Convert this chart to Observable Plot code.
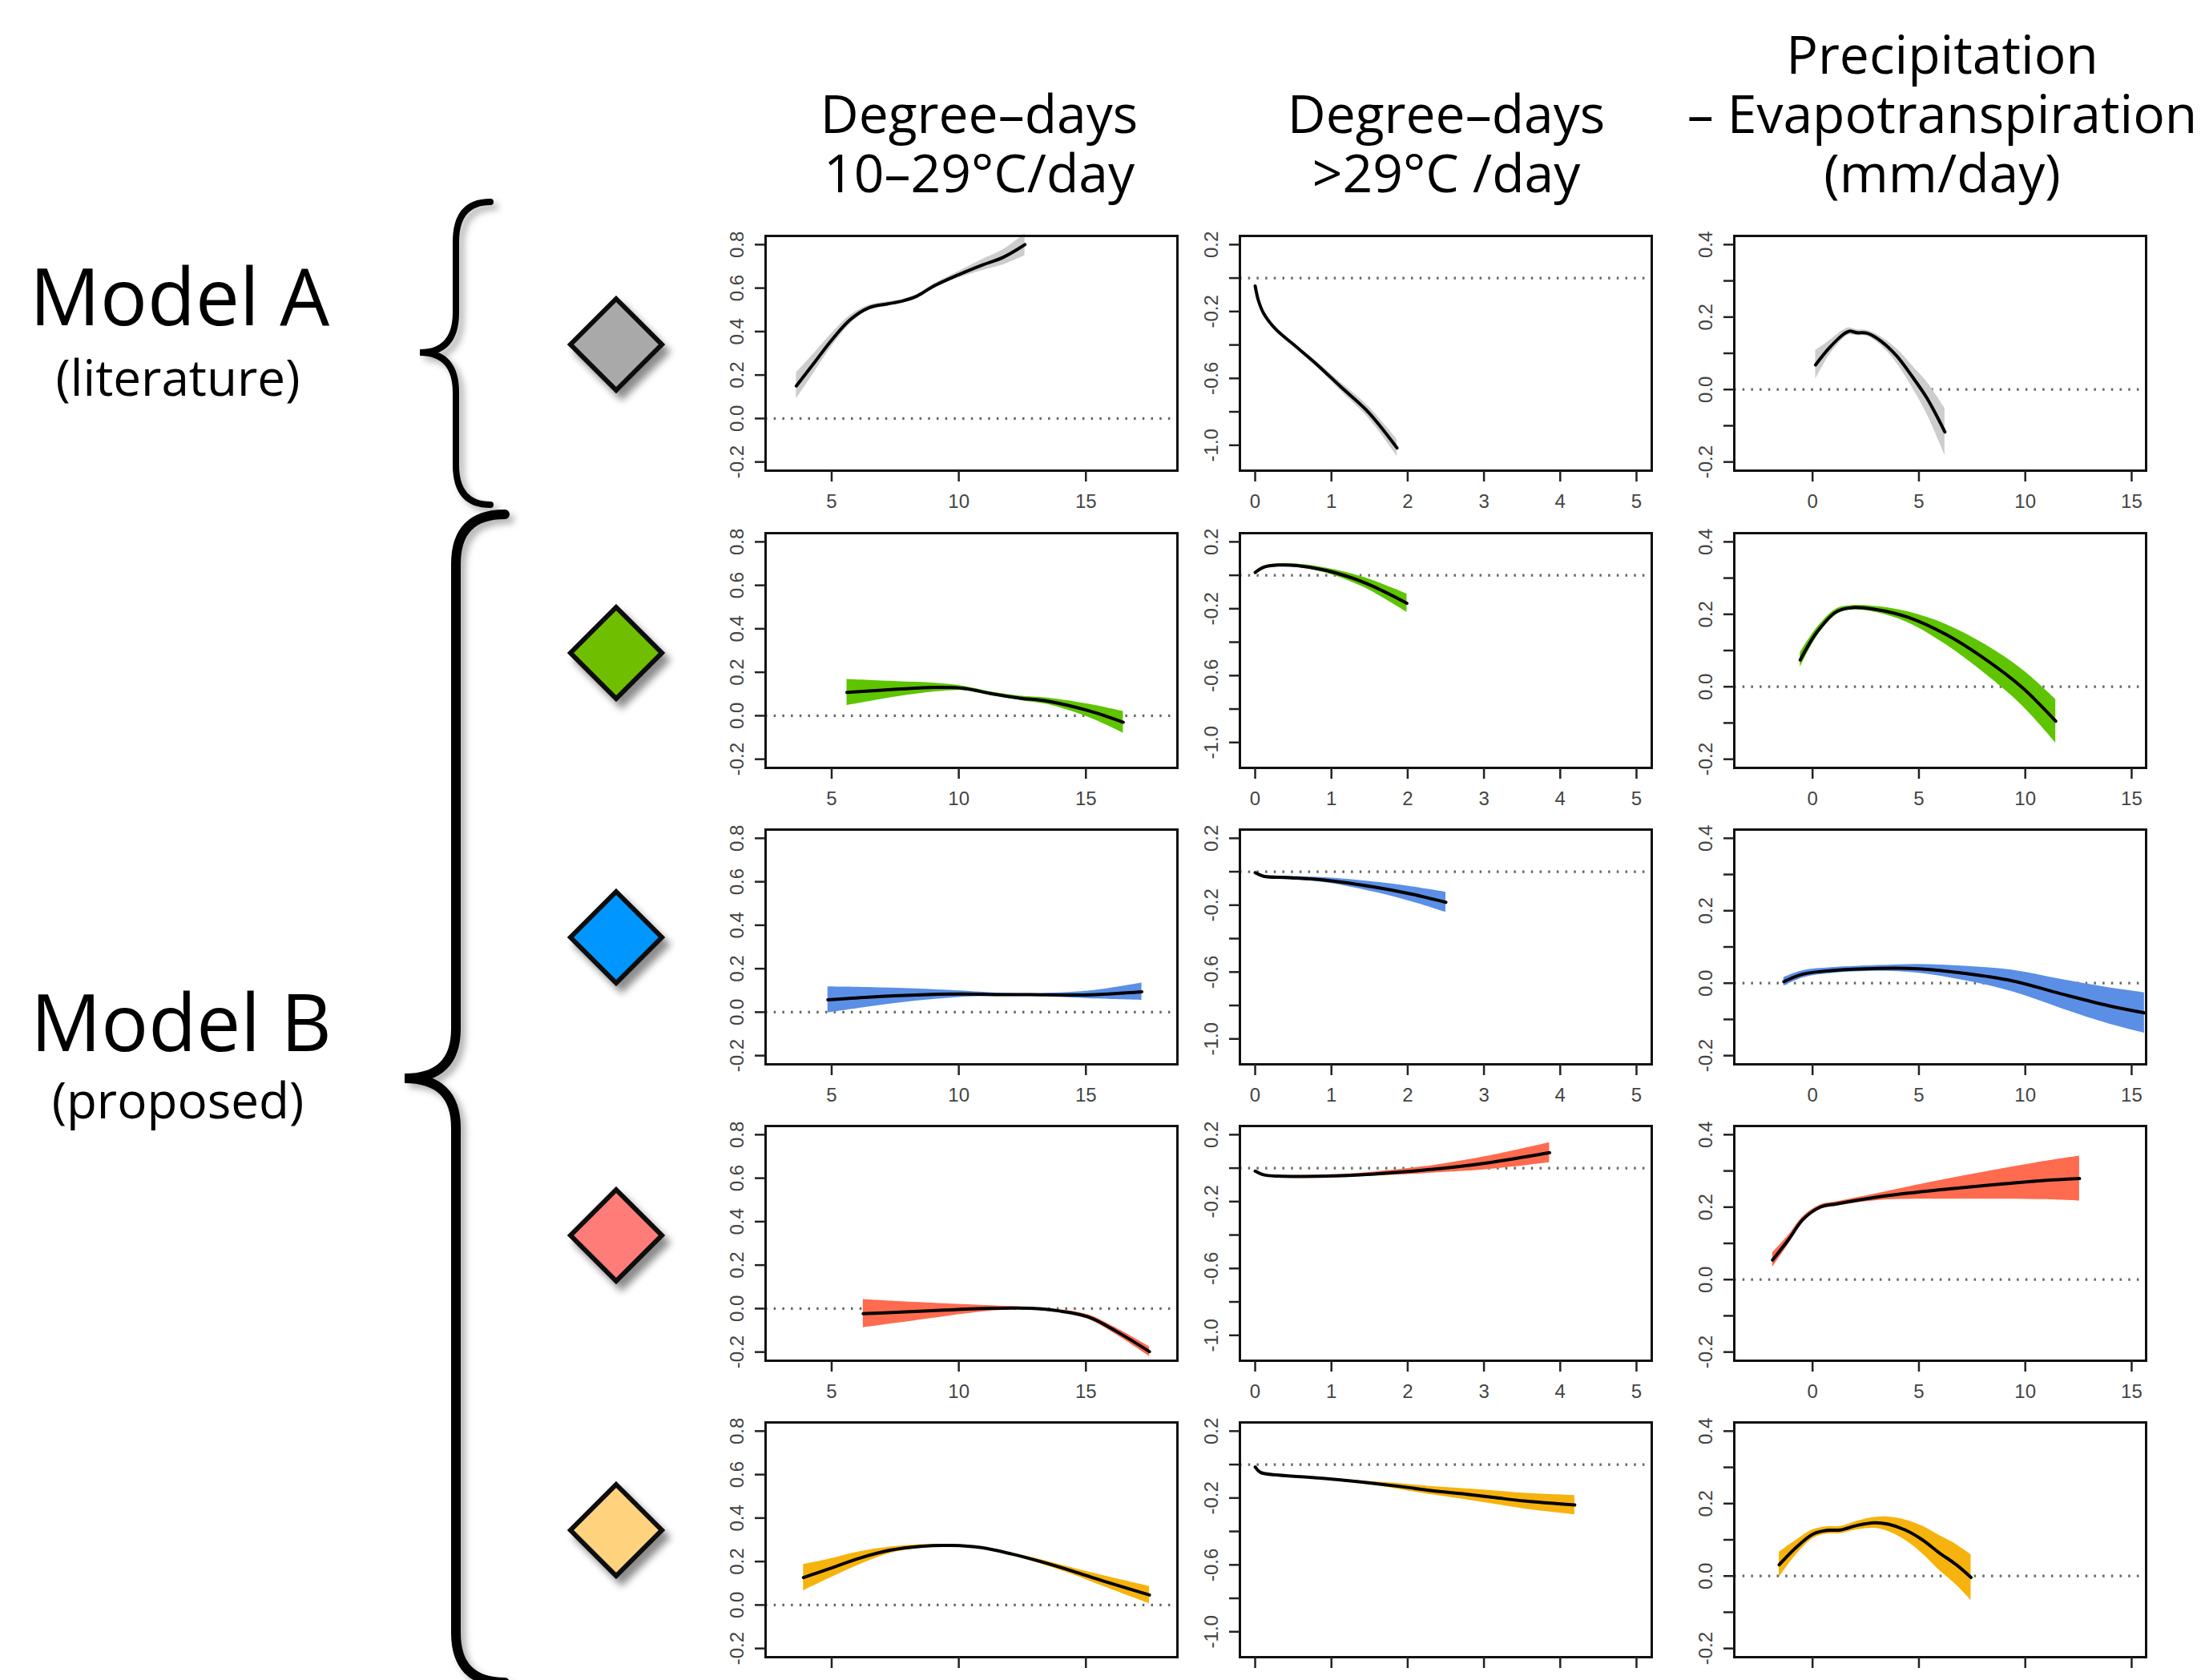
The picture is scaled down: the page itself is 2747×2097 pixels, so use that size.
<!DOCTYPE html>
<html><head><meta charset="utf-8">
<script src="https://cdn.jsdelivr.net/npm/d3@7"></script>
<script src="https://cdn.jsdelivr.net/npm/@observablehq/plot@0.6"></script>
<style>
html,body{margin:0;padding:0;background:#fff;overflow:hidden}
#page{position:relative;width:2747px;height:2097px;overflow:hidden;background:#fff}
.hdr{position:absolute;font-family:"Open Sans",sans-serif;font-size:66px;line-height:74px;height:74px;text-align:center;white-space:nowrap;color:#000;transform:translateX(-50%)}
.panel{position:absolute}
#deco{position:absolute;left:0;top:0}
</style></head><body><div id="page"></div>
<script>
// ---------- column headers ----------
const headers = [
  ["Degree–days", "10–29°C/day"],
  ["Degree–days", ">29°C /day"],
  ["Precipitation", "– Evapotranspiration", "(mm/day)"]
];
const modelNames = ["Model A", "Model B"];
const modelNotes = ["(literature)", "(proposed)"];

// ---------- colours per row (model A grey, then four proposed variants) ----------
const bandColors = ["#cdcdcd", "#5ec400", "#5b8fe6", "#ff6b4f", "#f7b30d"];
const diamondColors = ["#a9a9a9", "#6fbe00", "#0096ff", "#ff7b78", "#ffd37d"];

// ---------- axes ----------
const gddXTicks = [5, 10, 15];
const gddXLabels = ["5", "10", "15"];
const hddXTicks = [0, 1, 2, 3, 4, 5];
const hddXLabels = ["0", "1", "2", "3", "4", "5"];
const peXTicks = [0, 5, 10, 15];
const peXLabels = ["0", "5", "10", "15"];
const gddYTicks = [-0.2, 0, 0.2, 0.4, 0.6, 0.8];
const gddYLabels = ["-0.2", "0.0", "0.2", "0.4", "0.6", "0.8"];
const hddYTicks = [-1.0, -0.8, -0.6, -0.4, -0.2, 0, 0.2];
const hddYLabels = ["-1.0", "", "-0.6", "", "-0.2", "", "0.2"];
const peYTicks = [-0.2, -0.1, 0, 0.1, 0.2, 0.3, 0.4];
const peYLabels = ["-0.2", "", "0.0", "", "0.2", "", "0.4"];

// ---------- Model A (grey) ----------
const gddA_x  = [3.61, 4.28, 5.0, 5.72, 6.45, 7.17, 7.77, 8.37, 8.98, 10.0, 10.9, 11.75, 12.6];
const gddA_y  = [0.15, 0.251, 0.361, 0.454, 0.509, 0.527, 0.540, 0.564, 0.607, 0.662, 0.705, 0.742, 0.80];
const gddA_se = [0.06, 0.045, 0.03, 0.02, 0.012, 0.01, 0.008, 0.008, 0.01, 0.015, 0.025, 0.035, 0.05];
const hddA_x  = [0, 0.04, 0.11, 0.27, 0.51, 0.8, 1.12, 1.48, 1.86];
const hddA_y  = [-0.047, -0.13, -0.21, -0.306, -0.40, -0.513, -0.649, -0.80, -1.016];
const hddA_se = [0.005, 0.005, 0.006, 0.008, 0.01, 0.015, 0.025, 0.035, 0.05];
const peA_x   = [0.14, 0.79, 1.44, 1.72, 2.08, 2.59, 3.23, 3.95, 4.67, 5.39, 6.22];
const peA_y   = [0.068, 0.115, 0.152, 0.161, 0.157, 0.155, 0.133, 0.093, 0.037, -0.025, -0.117];
const peA_se  = [0.04, 0.02, 0.012, 0.01, 0.008, 0.008, 0.012, 0.02, 0.03, 0.045, 0.065];

// ---------- Model B, green ----------
const gddG_x  = [5.6, 7.56, 9.06, 10.19, 11.3, 12.4, 13.5, 15.08, 16.47];
const gddG_y  = [0.107, 0.122, 0.13, 0.126, 0.101, 0.081, 0.067, 0.024, -0.03];
const gddG_se = [0.06, 0.035, 0.02, 0.01, 0.008, 0.01, 0.015, 0.03, 0.05];
const hddG_x  = [0, 0.11, 0.3, 0.55, 0.93, 1.43, 1.99];
const hddG_y  = [0.017, 0.048, 0.061, 0.058, 0.029, -0.043, -0.167];
const hddG_se = [0.008, 0.008, 0.008, 0.01, 0.015, 0.03, 0.055];
const peG_x   = [-0.58, 0.22, 1.12, 1.79, 2.91, 4.48, 6.28, 8.07, 9.87, 11.43];
const peG_y   = [0.074, 0.152, 0.207, 0.218, 0.214, 0.192, 0.144, 0.078, -0.003, -0.095];
const peG_se  = [0.02, 0.012, 0.008, 0.006, 0.008, 0.015, 0.028, 0.04, 0.05, 0.06];

// ---------- Model B, blue ----------
const gddBl_x  = [4.85, 6.43, 8.3, 10.0, 11.7, 12.8, 14.3, 15.4, 17.2];
const gddBl_y  = [0.057, 0.069, 0.079, 0.083, 0.081, 0.081, 0.079, 0.081, 0.094];
const gddBl_se = [0.06, 0.045, 0.028, 0.015, 0.006, 0.004, 0.012, 0.02, 0.04];
const hddBl_x  = [0, 0.11, 0.43, 0.93, 1.55, 2.05, 2.5];
const hddBl_y  = [-0.006, -0.027, -0.035, -0.051, -0.091, -0.134, -0.183];
const hddBl_se = [0.005, 0.005, 0.008, 0.015, 0.03, 0.045, 0.06];
const peBl_x   = [-1.35, -0.45, 0.9, 3.14, 4.93, 7.17, 9.42, 11.66, 13.9, 15.6];
const peBl_y   = [0.004, 0.025, 0.035, 0.041, 0.04, 0.027, 0.006, -0.029, -0.062, -0.082];
const peBl_se  = [0.012, 0.01, 0.008, 0.008, 0.012, 0.02, 0.03, 0.04, 0.05, 0.056];

// ---------- Model B, red ----------
const gddR_x  = [6.24, 7.56, 9.44, 11.3, 12.8, 13.95, 15.08, 16.2, 17.5];
const gddR_y  = [-0.023, -0.017, -0.007, 0.001, 0.001, -0.011, -0.038, -0.105, -0.198];
const gddR_se = [0.065, 0.05, 0.03, 0.012, 0.004, 0.006, 0.01, 0.015, 0.022];
const hddR_x  = [0, 0.11, 0.3, 0.93, 1.55, 2.3, 3.05, 3.86];
const hddR_y  = [-0.018, -0.04, -0.048, -0.048, -0.035, -0.008, 0.032, 0.093];
const hddR_se = [0.004, 0.004, 0.005, 0.008, 0.012, 0.022, 0.04, 0.06];
const peR_x   = [-1.88, -1.12, -0.45, 0.36, 1.12, 3.14, 5.83, 8.52, 10.76, 12.55];
const peR_y   = [0.054, 0.111, 0.166, 0.2, 0.209, 0.229, 0.247, 0.262, 0.273, 0.279];
const peR_se  = [0.02, 0.012, 0.008, 0.006, 0.006, 0.01, 0.025, 0.04, 0.052, 0.062];

// ---------- Model B, yellow ----------
const gddY_x  = [3.89, 4.88, 6.08, 7.29, 8.49, 9.7, 10.9, 12.1, 13.3, 14.5, 15.7, 17.5];
const gddY_y  = [0.126, 0.166, 0.215, 0.252, 0.27, 0.274, 0.264, 0.234, 0.197, 0.155, 0.11, 0.046];
const gddY_se = [0.06, 0.045, 0.03, 0.015, 0.008, 0.005, 0.004, 0.006, 0.01, 0.015, 0.025, 0.04];
const hddY_x  = [0, 0.07, 0.31, 0.71, 1.12, 1.52, 1.92, 2.32, 2.72, 3.12, 3.53, 4.19];
const hddY_y  = [-0.015, -0.047, -0.063, -0.076, -0.092, -0.111, -0.132, -0.156, -0.175, -0.196, -0.218, -0.242];
const hddY_se = [0.003, 0.003, 0.004, 0.004, 0.005, 0.01, 0.018, 0.025, 0.032, 0.04, 0.047, 0.057];
const peY_x   = [-1.57, -0.77, 0.03, 0.67, 1.31, 2.12, 2.92, 3.56, 4.36, 5.16, 5.96, 6.76, 7.45];
const peY_y   = [0.031, 0.079, 0.116, 0.126, 0.127, 0.14, 0.147, 0.143, 0.127, 0.1, 0.064, 0.031, -0.004];
const peY_se  = [0.035, 0.02, 0.012, 0.01, 0.01, 0.012, 0.015, 0.02, 0.028, 0.038, 0.048, 0.056, 0.063];

// ---------- assemble ----------
const series = [
  [[gddA_x, gddA_y, gddA_se], [hddA_x, hddA_y, hddA_se], [peA_x, peA_y, peA_se]],
  [[gddG_x, gddG_y, gddG_se], [hddG_x, hddG_y, hddG_se], [peG_x, peG_y, peG_se]],
  [[gddBl_x, gddBl_y, gddBl_se], [hddBl_x, hddBl_y, hddBl_se], [peBl_x, peBl_y, peBl_se]],
  [[gddR_x, gddR_y, gddR_se], [hddR_x, hddR_y, hddR_se], [peR_x, peR_y, peR_se]],
  [[gddY_x, gddY_y, gddY_se], [hddY_x, hddY_y, hddY_se], [peY_x, peY_y, peY_se]]
];
const colAxes = [
  {xd: [2.4, 18.6], yd: [-0.24, 0.84], xt: gddXTicks, xl: gddXLabels, yt: gddYTicks, yl: gddYLabels},
  {xd: [-0.2, 5.2], yd: [-1.152, 0.252], xt: hddXTicks, xl: hddXLabels, yt: hddYTicks, yl: hddYLabels},
  {xd: [-3.68, 15.68], yd: [-0.224, 0.424], xt: peXTicks, xl: peXLabels, yt: peYTicks, yl: peYLabels}
];

// layout
const colLeft = [955, 1547, 2164];
const rowTop = [294, 665, 1035, 1405, 1775];
const FW = 514, FH = 293;
const mL = 70, mR = 10, mT = 10, mB = 80;
const page = document.getElementById("page");

// decorations (braces, diamonds, model labels)
const NS = "http://www.w3.org/2000/svg";
const deco = document.createElementNS(NS, "svg");
deco.setAttribute("id", "deco");
deco.setAttribute("width", 2747);
deco.setAttribute("height", 2097);
deco.innerHTML = `
<defs>
 <filter id="sh" x="-30%" y="-30%" width="160%" height="160%">
  <feDropShadow dx="7" dy="9" stdDeviation="5" flood-color="#000" flood-opacity="0.45"/>
 </filter>
 <filter id="shb" x="-50%" y="-5%" width="200%" height="110%">
  <feDropShadow dx="6" dy="6" stdDeviation="4" flood-color="#000" flood-opacity="0.3"/>
 </filter>
</defs>`;
page.appendChild(deco);

function brace(xEnd, xStem, xTip, yTop, yMid, yBot, r, w) {
  const p = document.createElementNS(NS, "path");
  p.setAttribute("d",
    `M${xEnd},${yTop} Q${xStem},${yTop} ${xStem},${yTop + r} L${xStem},${yMid - r} ` +
    `Q${xStem},${yMid} ${xTip},${yMid} Q${xStem},${yMid} ${xStem},${yMid + r} ` +
    `L${xStem},${yBot - r} Q${xStem},${yBot} ${xEnd},${yBot}`);
  p.setAttribute("fill", "none");
  p.setAttribute("stroke", "#000");
  p.setAttribute("stroke-width", w);
  p.setAttribute("stroke-linecap", "round");
  p.setAttribute("filter", "url(#shb)");
  deco.appendChild(p);
}
brace(612, 569, 524, 252, 440, 630, 50, 8);
brace(630, 569, 505, 642, 1346, 2100, 62, 12);

const diamondY = [430, 815, 1170, 1542, 1910];
diamondY.forEach((cy, i) => {
  const p = document.createElementNS(NS, "polygon");
  const cx = 769, h = 57;
  p.setAttribute("points", `${cx},${cy - h} ${cx + h},${cy} ${cx},${cy + h} ${cx - h},${cy}`);
  p.setAttribute("fill", diamondColors[i]);
  p.setAttribute("stroke", "#111");
  p.setAttribute("stroke-width", 6);
  p.setAttribute("stroke-linejoin", "miter");
  p.setAttribute("filter", "url(#sh)");
  deco.appendChild(p);
});

function label(txt, x, y, size) {
  const t = document.createElementNS(NS, "text");
  t.textContent = txt;
  t.setAttribute("x", x);
  t.setAttribute("y", y);
  t.setAttribute("text-anchor", "middle");
  t.setAttribute("font-family", "Open Sans, sans-serif");
  t.setAttribute("font-size", size);
  t.setAttribute("fill", "#000");
  deco.appendChild(t);
}
label(modelNames[0], 224, 406, 98);
label(modelNotes[0], 222, 494, 62);
label(modelNames[1], 226, 1312, 98);
label(modelNotes[1], 222, 1396, 62);

// headers: one positioned line each
const hdrCenter = [1222, 1805, 2424];
const hdrTop = [103, 103, 29];
headers.forEach((lines, c) => {
  lines.forEach((s, k) => {
    const d = document.createElement("div");
    d.className = "hdr";
    d.textContent = s;
    d.style.left = hdrCenter[c] + "px";
    d.style.top = (hdrTop[c] + k * 74) + "px";
    page.appendChild(d);
  });
});

// panels
series.forEach((row, r) => {
  const lastRow = r === series.length - 1; // its tick labels fall below the page edge in the original
  row.forEach(([xs, ys, se], c) => {
    const ax = colAxes[c];
    const data = xs.map((x, i) => ({x, y: ys[i], lo: ys[i] - se[i], hi: ys[i] + se[i]}));
    const yLab = ax.yt.map((v, i) => ({v, t: ax.yl[i]})).filter(d => d.t !== "");
    const marks = [
      Plot.ruleY([0], {stroke: "#666", strokeWidth: 3.2, strokeDasharray: "2.5,8.2"}),
      Plot.areaY(data, {x: "x", y1: "lo", y2: "hi", fill: bandColors[r], curve: "catmull-rom"}),
      Plot.lineY(data, {x: "x", y: "y", stroke: "#000", strokeWidth: 4, curve: "catmull-rom"}),
      Plot.frame({stroke: "#111", strokeWidth: 3}),
      Plot.axisX({ticks: ax.xt, tickSize: 14, tickFormat: () => "", stroke: "#222", strokeWidth: 2.5, label: null}),
      Plot.axisY({ticks: ax.yt, tickSize: 13, tickFormat: () => "", stroke: "#222", strokeWidth: 2.5, label: null}),
      Plot.text(yLab, {y: "v", text: "t", frameAnchor: "left", dx: -35, rotate: -90, textAnchor: "middle", lineAnchor: "middle", fill: "#444", fontSize: 24})
    ];
    if (!lastRow) {
      marks.push(Plot.axisX({ticks: ax.xt, tickSize: 0, tickPadding: 29, tickFormat: (d, i) => ax.xl[i], fill: "#444", fontSize: 24, label: null}));
    }
    const chart = Plot.plot({
      width: FW + mL + mR,
      height: FH + mT + mB,
      marginLeft: mL, marginRight: mR, marginTop: mT, marginBottom: mB,
      x: {domain: ax.xd, label: null},
      y: {domain: ax.yd, label: null},
      style: {background: "transparent", overflow: "visible", fontFamily: "Liberation Sans, Arial, sans-serif", fontSize: "24px"},
      marks
    });
    chart.classList.add("panel");
    chart.style.left = (colLeft[c] - mL) + "px";
    chart.style.top = (rowTop[r] - mT) + "px";
    chart.style.position = "absolute";
    page.appendChild(chart);
  });
});
</script>
</body></html>
